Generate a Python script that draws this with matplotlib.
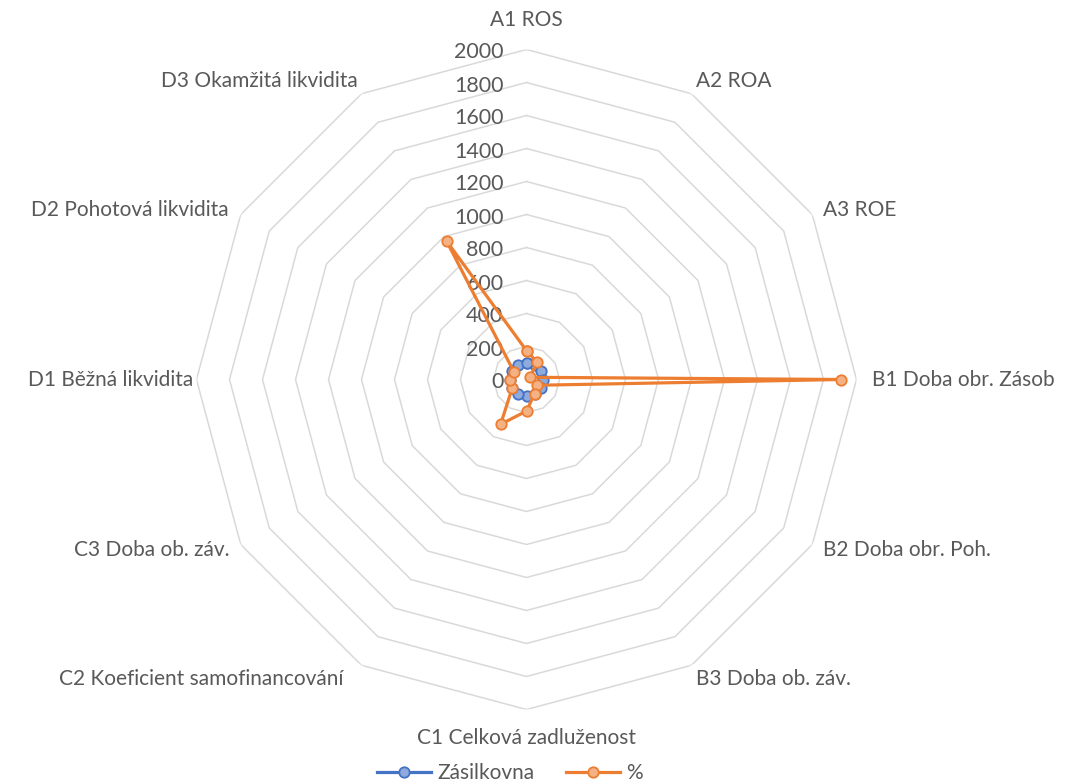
import numpy as np
import matplotlib.pyplot as plt
from matplotlib.lines import Line2D

plt.rcParams['font.family'] = ['Lato', 'DejaVu Sans']

categories = ['A1 ROS', 'A2 ROA', 'A3 ROE', 'B1 Doba obr. Zásob', 'B2 Doba obr. Poh.',
              'B3 Doba ob. záv.', 'C1 Celková zadluženost', 'C2 Koeficient samofinancování',
              'C3 Doba ob. záv.', 'D1 Běžná likvidita', 'D2 Pohotová likvidita',
              'D3 Okamžitá likvidita']
zasilkovna = [100, 100, 100, 100, 100, 100, 100, 100, 100, 100, 100, 100]
procenta = [175, 124, 27, 1905, 70, 99, 191, 314, 99, 100, 86, 968]
r_ticks = list(range(0, 2001, 200))

gray = '#595959'
grid = '#d9d9d9'
blue = '#4472c4'
orange = '#ed7d31'

n = len(categories)
theta = np.linspace(0, 2 * np.pi, n, endpoint=False)
theta_c = np.append(theta, theta[0])

fig = plt.figure(figsize=(10.67, 7.84), dpi=100)
# centre ~ (526.5, 379.5) px, radius 330 px
ax = fig.add_axes([196.5 / 1067, (784 - 379.5 - 330) / 784, 660 / 1067, 660 / 784],
                  projection='polar')
ax.set_theta_zero_location('N')
ax.set_theta_direction(-1)
ax.set_ylim(0, 2000)
ax.grid(False)
ax.spines['polar'].set_visible(False)
ax.set_xticks([])
ax.set_yticks([])
ax.patch.set_alpha(0)

for v in r_ticks[1:]:
    ax.plot(theta_c, [v] * (n + 1), color=grid, lw=1.1, zorder=1)

for v in r_ticks:
    ax.annotate(str(v), (0, v), xytext=(-23, -3), textcoords='offset pixels',
                ha='right', va='center', fontsize=15.5, color=gray)

ax.plot(theta_c, zasilkovna + zasilkovna[:1], color=blue, lw=2.3, marker='o', ms=7.5,
        mfc='#8faadc', mec=blue, mew=1.3, zorder=3)
ax.plot(theta_c, procenta + procenta[:1], color=orange, lw=2.3, marker='o', ms=7.5,
        mfc='#f4b183', mec=orange, mew=1.3, zorder=4)

offsets = [(0, 30, 'center'), (5, 13, 'left'), (11, 5, 'left'), (15, 0, 'left'),
           (11, -5, 'left'), (4, -14, 'left'), (0, -29, 'center'), (-18, -14, 'right'),
           (-11, -5, 'right'), (-3, 0, 'right'), (-12, 5, 'right'), (-4, 13, 'right')]
for t, lab, (dx, dy, ha) in zip(theta, categories, offsets):
    ax.annotate(lab, (t, 2000), xytext=(dx, dy), textcoords='offset pixels',
                ha=ha, va='center', fontsize=15, color=gray, annotation_clip=False)

handles = [
    Line2D([], [], color=blue, lw=2.3, marker='o', ms=7.5, mfc='#8faadc', mec=blue, mew=1.3),
    Line2D([], [], color=orange, lw=2.3, marker='o', ms=7.5, mfc='#f4b183', mec=orange, mew=1.3),
]
fig.legend(handles, ['Zásilkovna', '%'], loc='center', bbox_to_anchor=(510 / 1067, 1 - 773 / 784),
           ncol=2, frameon=False, fontsize=15, labelcolor=gray, handlelength=2.6,
           handletextpad=0.3, columnspacing=1.5, borderpad=0)

fig.savefig('out.png', dpi=100)
